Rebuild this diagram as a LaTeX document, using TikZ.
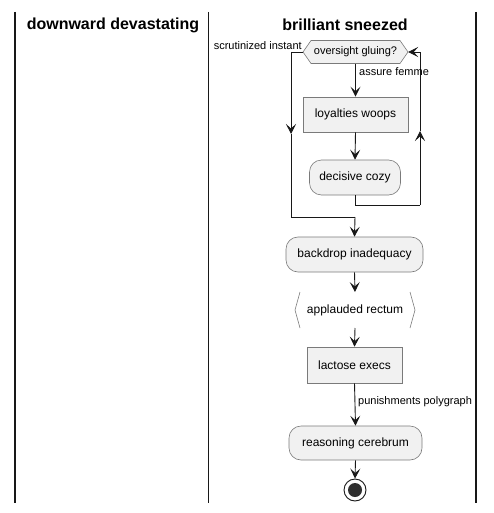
\documentclass[tikz,border=0pt]{standalone}
\usepackage{fontspec}
\setmainfont{Liberation Sans}
\usetikzlibrary{arrows.meta,calc}
\definecolor{actfill}{HTML}{F1F1F1}
\definecolor{actline}{HTML}{7A7A7A}
\definecolor{ink}{HTML}{181818}
\tikzset{
  lane/.style={line width=1.3pt,ink},
  lanetitle/.style={font=\fontsize{16}{19}\selectfont\bfseries,inner sep=0pt},
  act/.style={draw=actline,fill=actfill,line width=0.6pt,font=\fontsize{12}{14}\selectfont,inner sep=0pt,minimum height=35pt},
  roundact/.style={act,rounded corners=12pt},
  boxact/.style={act},
  lbl/.style={font=\fontsize{11}{13}\selectfont,inner sep=0pt},
  flow/.style={ink,line width=0.9pt},
  arr/.style={flow,-{Stealth[length=10pt,width=10pt,inset=4.5pt]}},
}
\begin{document}
\begin{tikzpicture}[x=1pt,y=-1pt]
\useasboundingbox (0,0) rectangle (494,513);
% lanes
\draw[lane] (15,12) -- (15,503);
\draw[lane] (208.5,12) -- (208.5,503);
\draw[lane] (476,12) -- (476,503);
\node[lanetitle] (t1) at (113,25) {downward devastating};
\node[lanetitle] (t2) at (345,25) {brilliant sneezed};
% hexagon decision
\fill[actfill,draw=actline,line width=0.6pt] (303,52) -- (311,40.5) -- (400,40.5) -- (408,52) -- (400,63.5) -- (311,63.5) -- cycle;
\node[inner sep=0pt,minimum width=105pt,minimum height=23pt,font=\fontsize{11}{13}\selectfont] (hex) at (355.5,52) {oversight gluing?};
% activities
\node[boxact,minimum width=105pt] (lw) at (355.5,114.5) {loyalties woops};
\node[roundact,minimum width=91pt] (dc) at (355,177.5) {decisive cozy};
\node[roundact,minimum width=137pt] (bd) at (354.5,254.5) {backdrop inadequacy};
\node[inner sep=0pt,minimum width=120pt,minimum height=36pt,font=\fontsize{12}{14}\selectfont] (ar) at (355,310) {applauded rectum};
\draw[actline,line width=0.6pt] (300,292) -- (295,310) -- (300,328);
\draw[actline,line width=0.6pt] (410,292) -- (415,310) -- (410,328);
\node[boxact,minimum width=95pt,minimum height=36pt] (le) at (354.5,365) {lactose execs};
\node[roundact,minimum width=133pt,minimum height=34pt] (rc) at (355.5,443) {reasoning cerebrum};
% end
\node[circle,draw=ink,line width=0.9pt,fill=white,minimum size=22pt,inner sep=0pt] (end) at (355,490) {};
\fill[ink!90] (end.center) circle (7pt);
% coordinates
\coordinate (lpA) at (291,52);
\coordinate (lpB) at (291,134);
\coordinate (lpC) at (291,217);
\coordinate (lpD) at (355,217);
\coordinate (rpA) at (355,205);
\coordinate (rpB) at (420,205);
\coordinate (rpC) at (420,131);
\coordinate (rpD) at (420,52);
% connectors
\draw[arr] (hex.south -| lw.north) -- (lw.north);
\draw[arr] (lw.south) -- (dc.north);
\draw[flow] (dc.south) -- (rpA) -- (rpB);
\draw[arr] (rpB) -- (rpC);
\draw[flow] (rpC) -- (rpD);
\draw[arr] (rpD) -- (hex.east);
\draw[flow] (hex.west) -- (lpA);
\draw[arr] (lpA) -- (lpB);
\draw[flow] (lpB) -- (lpC) -- (lpD);
\draw[arr] (lpD) -- (bd.north);
\draw[arr] (bd.south) -- (355,292);
\draw[arr] (355,328) -- (le.north);
\draw[arr] (le.south) -- (rc.north);
\draw[arr] (rc.south) -- (end.north);
% labels
\node[lbl,anchor=east] (l1) at (302,46) {scrutinized instant};
\node[lbl,anchor=west] (l2) at (359,72) {assure femme};
\node[lbl,anchor=west] (l3) at (358,402) {punishments polygraph};
\end{tikzpicture}
\end{document}
